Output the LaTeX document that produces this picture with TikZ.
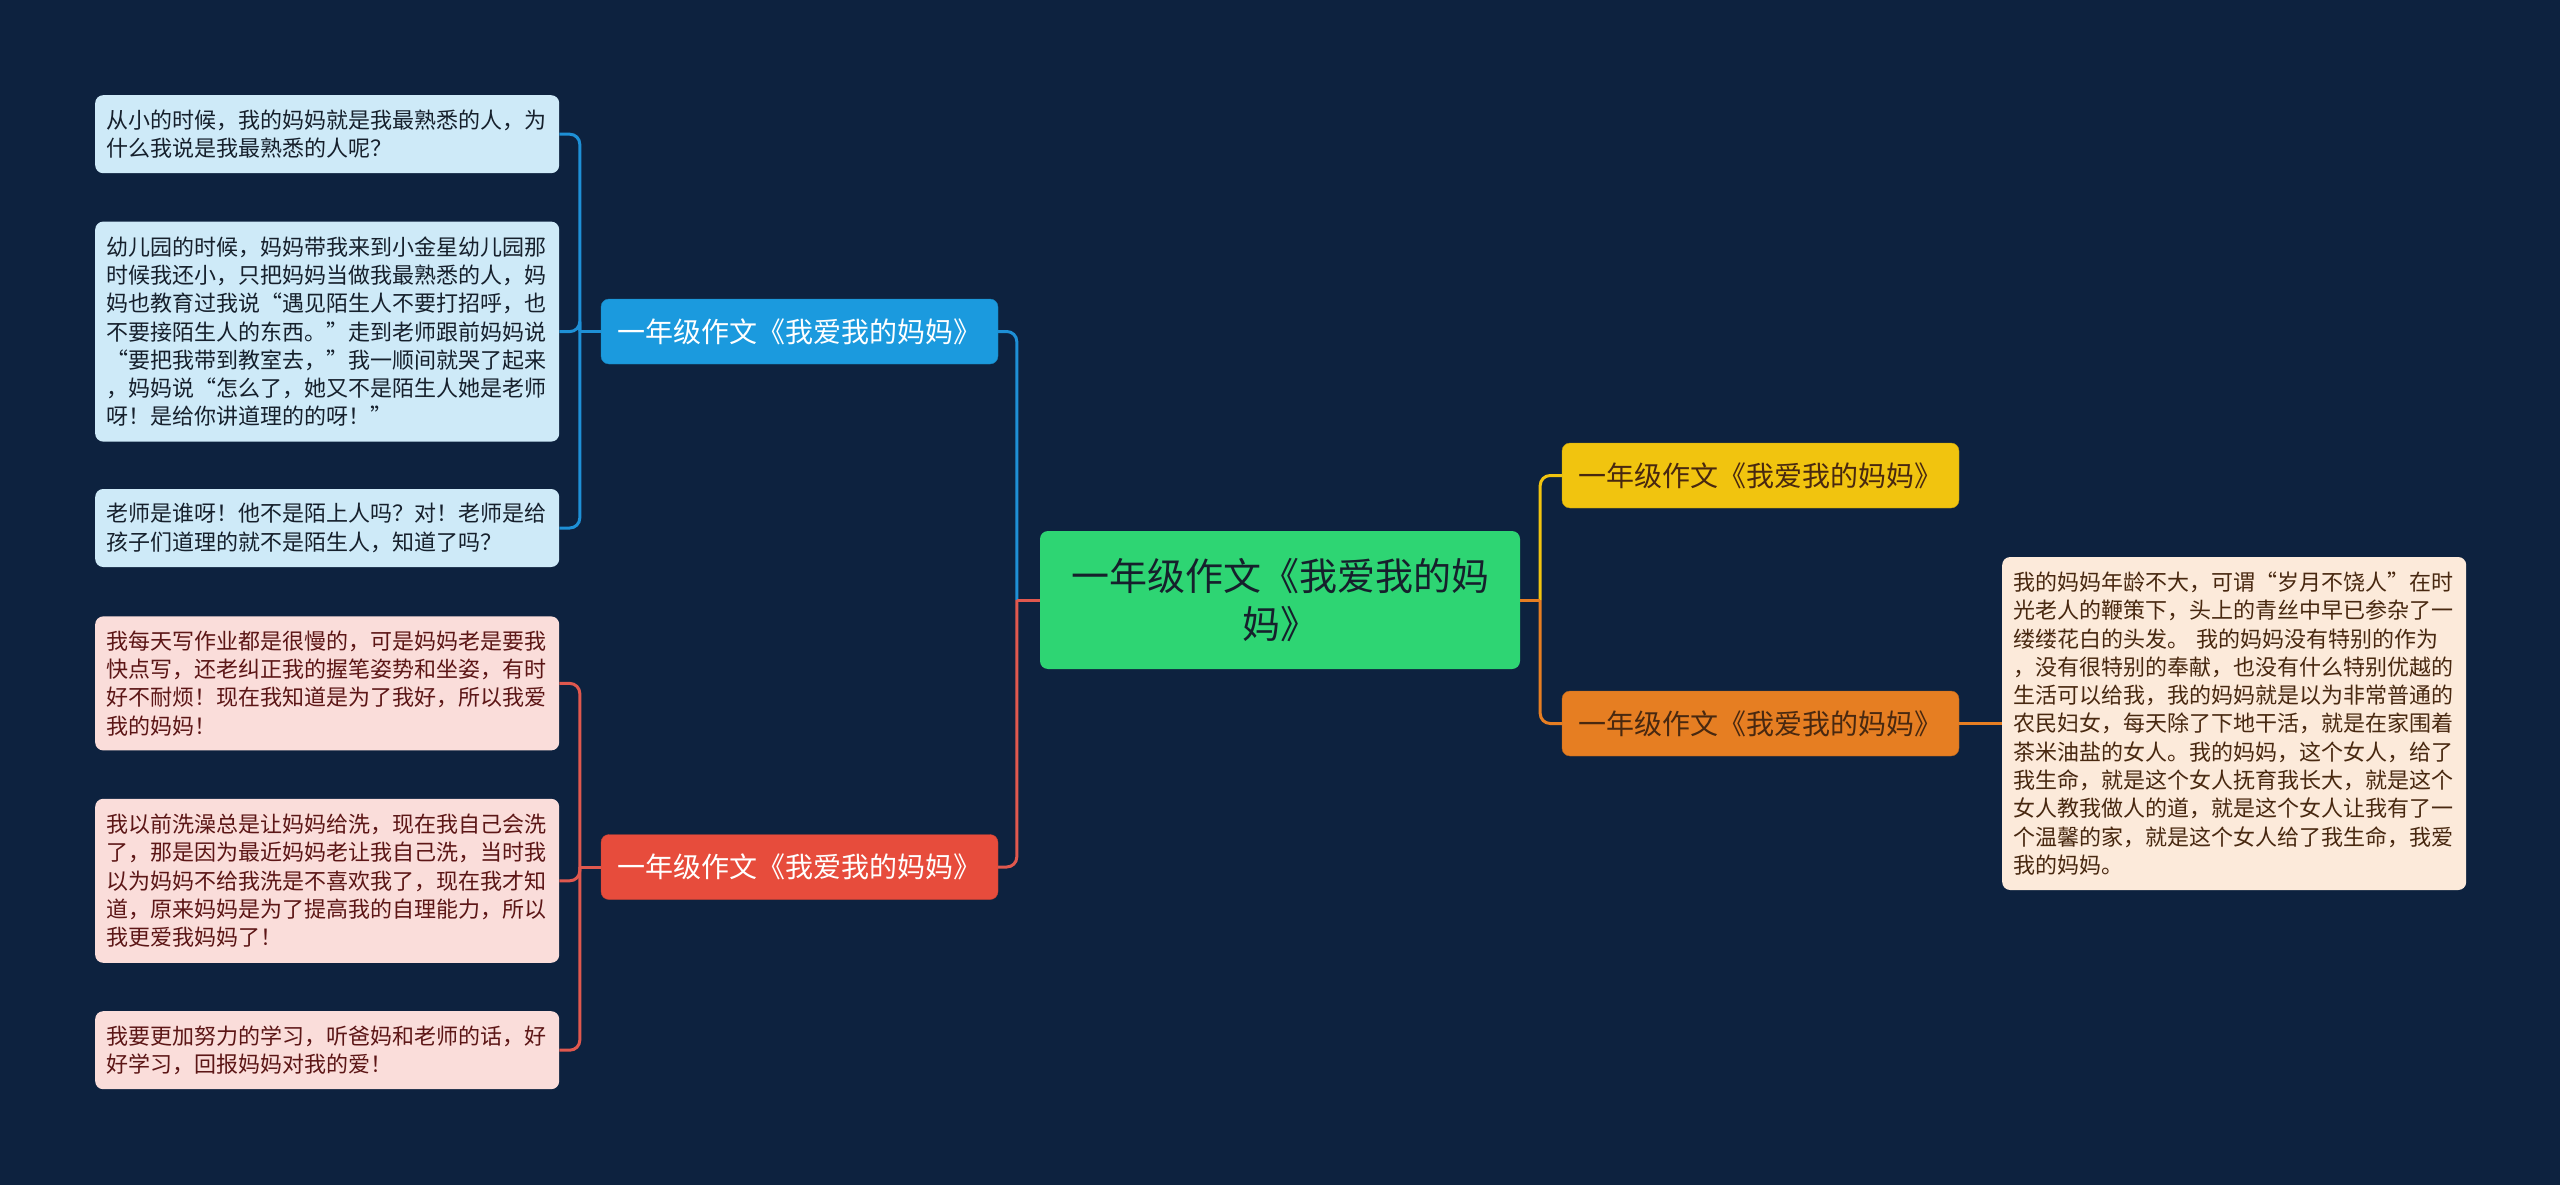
\documentclass[tikz,border=0pt]{standalone}
\usepackage{fontspec}
\setmainfont{Noto Sans CJK SC}
\usepackage{tikz}
\usetikzlibrary{positioning, calc}
\definecolor{mapnavy}{RGB}{13,34,63}
\definecolor{mapgreen}{RGB}{46,213,115}
\definecolor{mapblue}{RGB}{27,154,222}
\definecolor{mapred}{RGB}{231,76,60}
\definecolor{mapyellow}{RGB}{241,196,15}
\definecolor{maporange}{RGB}{230,126,34}
\definecolor{linkblue}{RGB}{30,144,214}
\definecolor{linkred}{RGB}{224,88,78}
\definecolor{leafblue}{RGB}{206,234,248}
\definecolor{leafred}{RGB}{250,221,218}
\definecolor{leafcream}{RGB}{252,234,218}
\definecolor{inkdark}{RGB}{22,32,44}
\definecolor{inkred}{RGB}{92,22,22}
\definecolor{inkbrown}{RGB}{72,40,16}

\begin{document}
\begin{tikzpicture}[
    x=1pt, y=-1pt,
    leaf/.style={rectangle, rounded corners=8pt, text width=442pt, inner xsep=11pt, inner ysep=6pt,
                 align=left, font=\fontsize{22pt}{28.3pt}\selectfont},
    blueleaf/.style={leaf, fill=leafblue, text=inkdark, minimum height=#1},
    redleaf/.style={leaf, fill=leafred, text=inkred, minimum height=#1},
    branch/.style={rectangle, rounded corners=8pt, minimum width=397pt, minimum height=65pt,
                   inner sep=0pt, font=\fontsize{28pt}{34pt}\selectfont},
    link/.style={line width=3pt, rounded corners=10pt},
]
    \fill[mapnavy] (0,0) rectangle (2560,1185);

    \node[rectangle, rounded corners=8pt, fill=mapgreen, text=inkdark, minimum width=480pt, minimum height=138pt,
          align=center, font=\fontsize{38pt}{48pt}\selectfont] (centre) at (1280,600)
          {一年级作文《我爱我的妈\\妈》};

    \node[branch, fill=mapblue, draw=mapblue!85!black, text=white] (bluebr) at (799.5,331.5) {一年级作文《我爱我的妈妈》};
    \node[branch, fill=mapred, draw=mapred!85!black, text=white] (redbr) at (799.5,867) {一年级作文《我爱我的妈妈》};
    \node[branch, fill=mapyellow, draw=mapyellow!80!black, text=inkbrown] (yellowbr) at (1760.5,475.5) {一年级作文《我爱我的妈妈》};
    \node[branch, fill=maporange, draw=maporange!80!black, text=inkbrown] (orangebr) at (1760.5,723.5) {一年级作文《我爱我的妈妈》};

    \node[blueleaf=78pt, anchor=north west] (childhood) at (95,95)
        {从小的时候，我的妈妈就是我最熟悉的人，为\\什么我说是我最熟悉的人呢？};
    \node[blueleaf=220pt, below=48pt of childhood] (kindergarten)
        {幼儿园的时候，妈妈带我来到小金星幼儿园那\\时候我还小，只把妈妈当做我最熟悉的人，妈\\妈也教育过我说“遇见陌生人不要打招呼，也\\不要接陌生人的东西。”走到老师跟前妈妈说\\“要把我带到教室去，”我一顺间就哭了起来\\，妈妈说“怎么了，她又不是陌生人她是老师\\呀！是给你讲道理的的呀！”};
    \node[blueleaf=78pt, below=47pt of kindergarten] (teacher)
        {老师是谁呀！他不是陌上人吗？对！老师是给\\孩子们道理的就不是陌生人，知道了吗？};
    \node[redleaf=134pt, below=49pt of teacher] (homework)
        {我每天写作业都是很慢的，可是妈妈老是要我\\快点写，还老纠正我的握笔姿势和坐姿，有时\\好不耐烦！现在我知道是为了我好，所以我爱\\我的妈妈！};
    \node[redleaf=164pt, below=48pt of homework] (bath)
        {我以前洗澡总是让妈妈给洗，现在我自己会洗\\了，那是因为最近妈妈老让我自己洗，当时我\\以为妈妈不给我洗是不喜欢我了，现在我才知\\道，原来妈妈是为了提高我的自理能力，所以\\我更爱我妈妈了！};
    \node[redleaf=78pt, below=48pt of bath] (study)
        {我要更加努力的学习，听爸妈和老师的话，好\\好学习，回报妈妈对我的爱！};
    \node[leaf, fill=leafcream, text=inkbrown, minimum height=333pt, anchor=west] (ordinary) at (2002,723.5)
        {我的妈妈年龄不大，可谓“岁月不饶人”在时\\光老人的鞭策下，头上的青丝中早已参杂了一\\缕缕花白的头发。 我的妈妈没有特别的作为\\，没有很特别的奉献，也没有什么特别优越的\\生活可以给我，我的妈妈就是以为非常普通的\\农民妇女，每天除了下地干活，就是在家围着\\茶米油盐的女人。我的妈妈，这个女人，给了\\我生命，就是这个女人抚育我长大，就是这个\\女人教我做人的道，就是这个女人让我有了一\\个温馨的家，就是这个女人给了我生命，我爱\\我的妈妈。};

    \coordinate (bluejoin) at ($(bluebr.west)+(-21,0)$);
    \coordinate (redjoin) at ($(redbr.west)+(-21,0)$);
    \coordinate (leftjoin) at ($(centre.west)+(-23,0)$);
    \coordinate (rightjoin) at ($(centre.east)+(20,0)$);

    \draw[link, linkblue] (childhood.east) -| (bluejoin);
    \draw[link, linkblue] (kindergarten.east) -| (bluejoin);
    \draw[link, linkblue] (teacher.east) -| (bluejoin);
    \draw[link, linkblue] (bluejoin) -- (bluebr.west);
    \draw[link, linkred] (homework.east) -| (redjoin);
    \draw[link, linkred] (bath.east) -| (redjoin);
    \draw[link, linkred] (study.east) -| (redjoin);
    \draw[link, linkred] (redjoin) -- (redbr.west);

    \draw[link, linkblue] (bluebr.east) -| (leftjoin);
    \draw[link, linkred] (redbr.east) -| (leftjoin);
    \draw[link, linkred] (leftjoin) -- (centre.west);
    \draw[link, mapyellow] (yellowbr.west) -| (rightjoin);
    \draw[link, maporange] (orangebr.west) -| (rightjoin);
    \draw[link, maporange] (centre.east) -- (rightjoin);
    \draw[link, maporange] (orangebr.east) -- (ordinary.west);
\end{tikzpicture}
\end{document}
